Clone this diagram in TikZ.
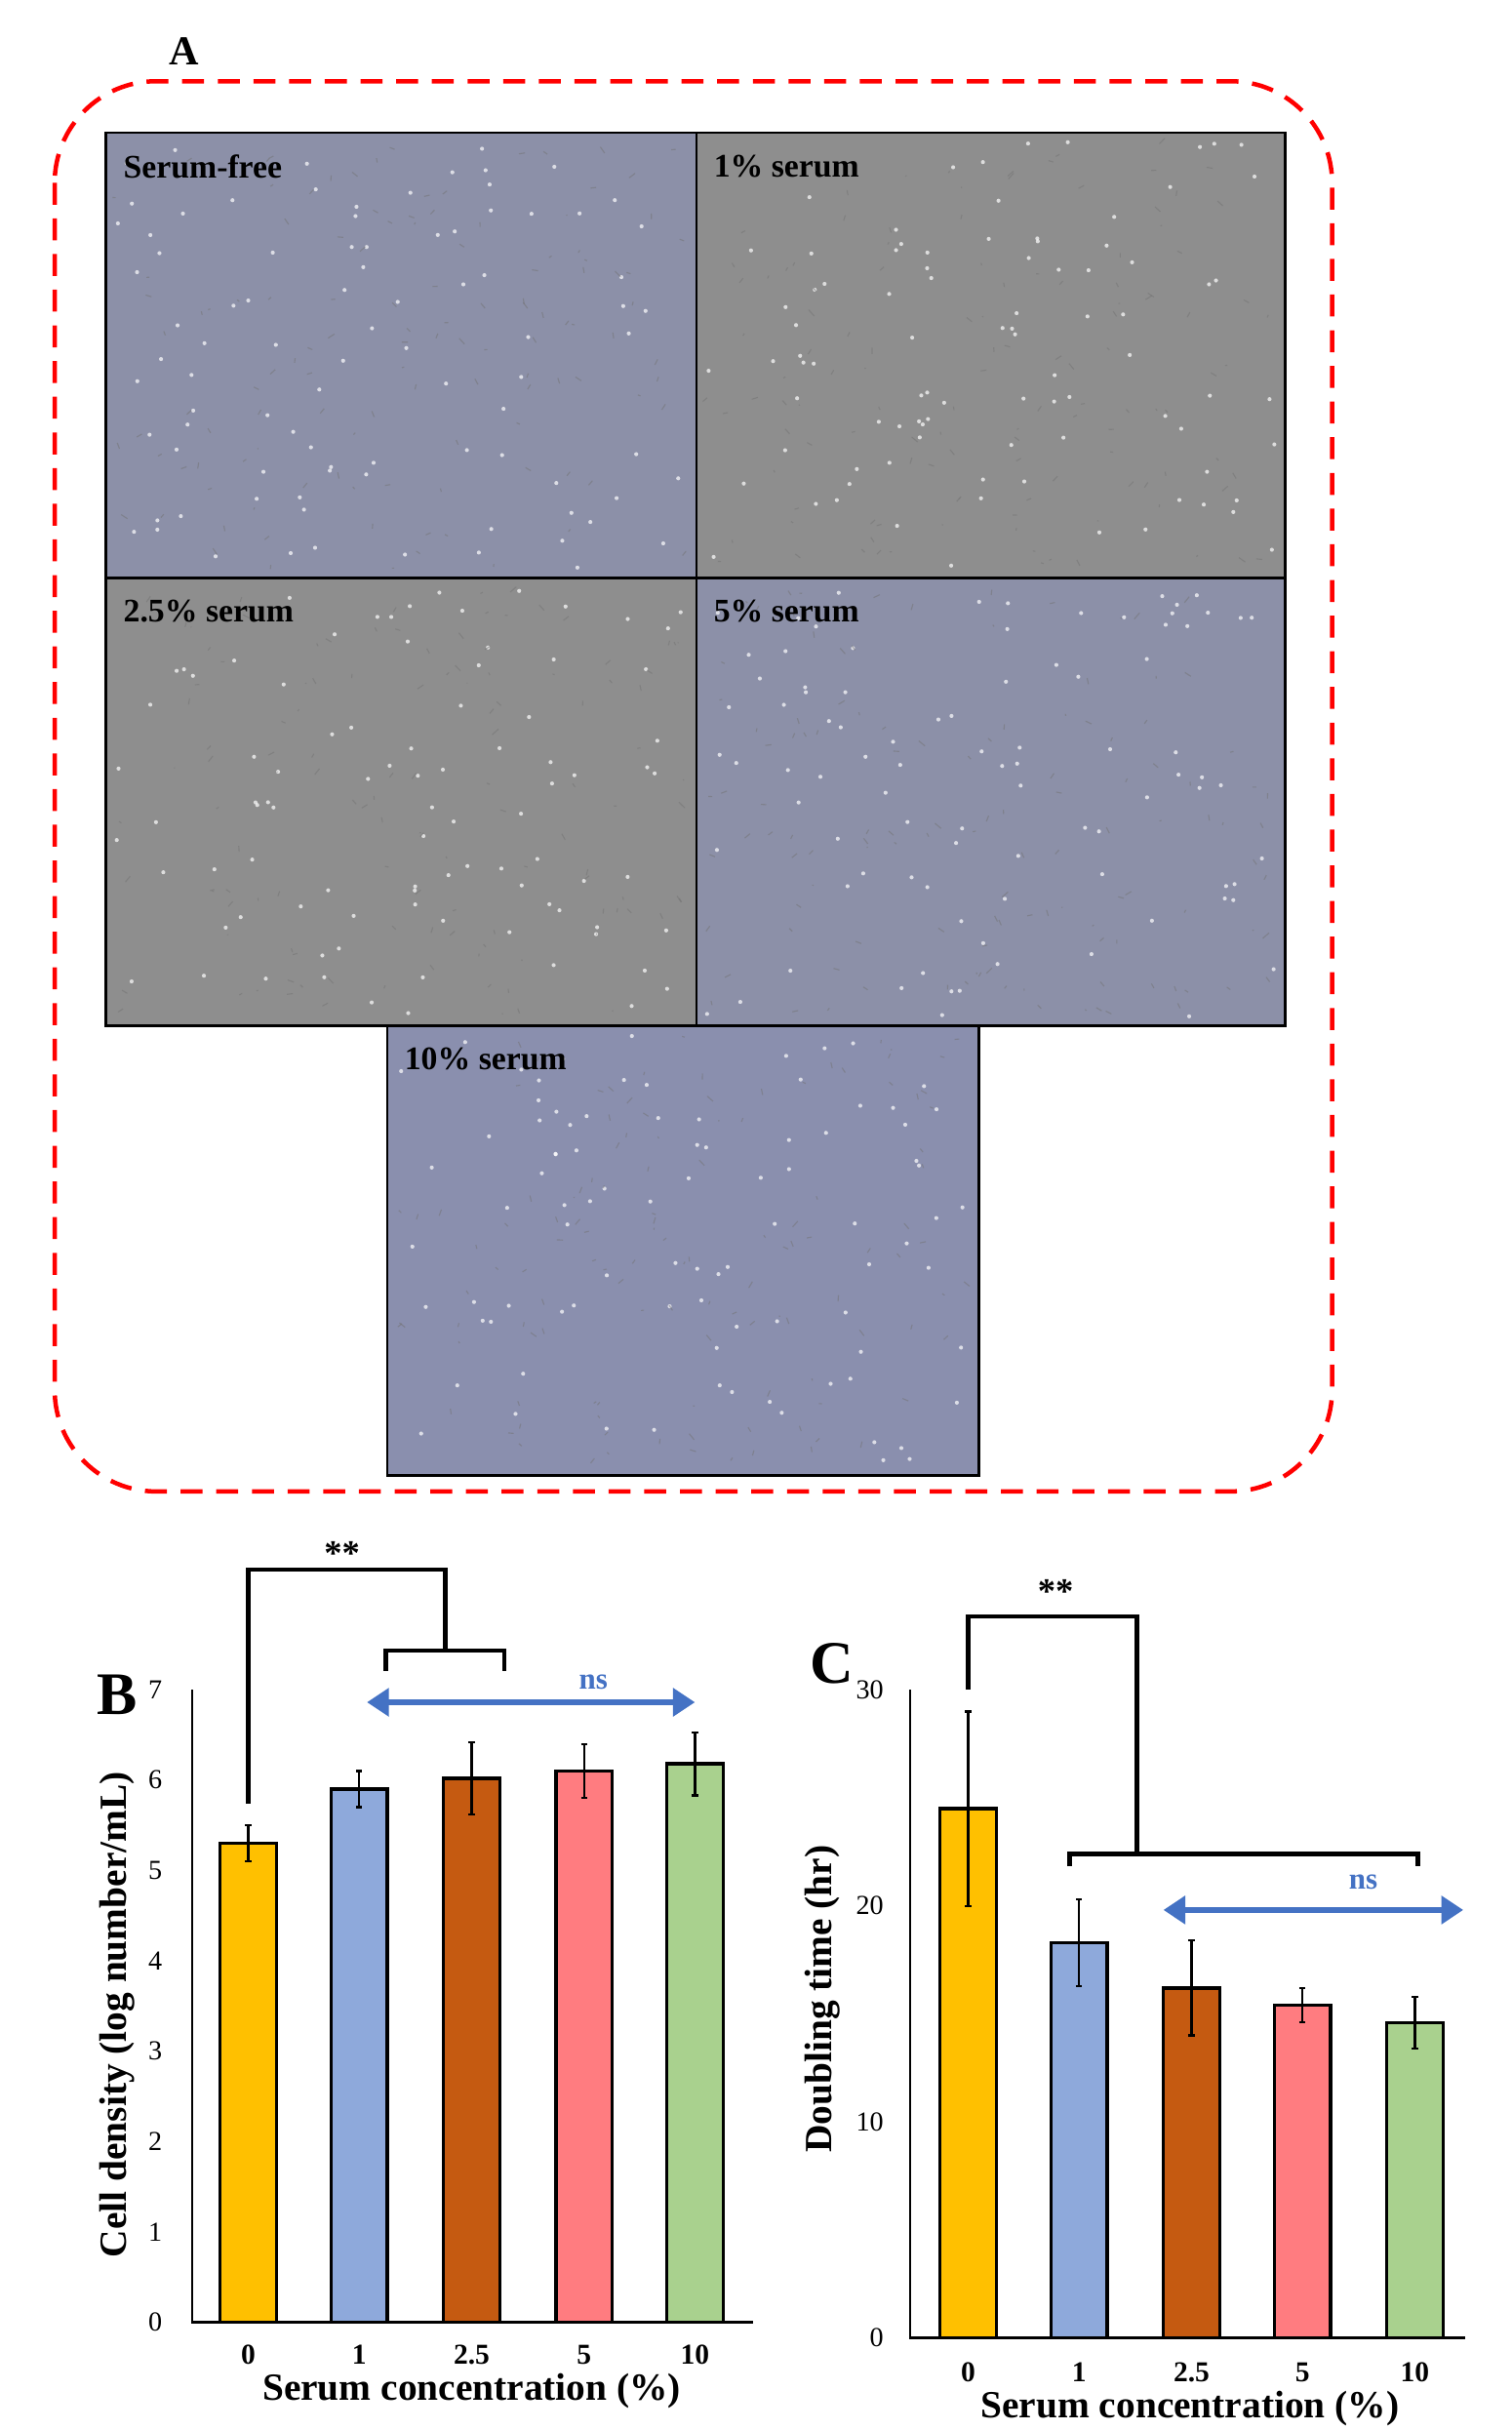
\documentclass[tikz,border=0pt]{standalone}
\usepackage{fontspec}
\setmainfont{Liberation Serif}
\usetikzlibrary{arrows.meta}
\definecolor{bluegray}{HTML}{8C90A8}
\definecolor{plaingray}{HTML}{8E8E8E}
\definecolor{bluegrayb}{HTML}{8A8FAE}
\definecolor{cA}{HTML}{FFC000}
\definecolor{cB}{HTML}{8EA9DB}
\definecolor{cC}{HTML}{C55A11}
\definecolor{cD}{HTML}{FF7C80}
\definecolor{cE}{HTML}{A9D18E}
\definecolor{nsblue}{HTML}{4472C4}
\tikzset{
 photo/.style={draw=black,line width=1pt},
 plab/.style={anchor=north west,inner sep=1pt,font=\bfseries\fontsize{12}{14}\selectfont},
 bar/.style={draw=black,line width=1.2pt},
 err/.style={line width=0.8pt},
 tick/.style={font=\fontsize{10}{12}\selectfont},
 xtick/.style={font=\bfseries\fontsize{10.5}{12}\selectfont},
 axtitle/.style={font=\bfseries\fontsize{14}{16}\selectfont},
 brk/.style={line width=1.6pt},
 nsarrow/.style={draw=nsblue,line width=2.2pt,{Triangle[length=8pt,width=10pt]}-{Triangle[length=8pt,width=10pt]}},
 nslab/.style={text=nsblue,font=\bfseries\fontsize{11}{13}\selectfont},
 star/.style={font=\bfseries\fontsize{13}{15}\selectfont},
 big/.style={font=\bfseries\fontsize{22}{24}\selectfont},
}
\begin{document}
\begin{tikzpicture}[x=0.02cm,y=-0.02cm]
\useasboundingbox (0,0) rectangle (968,1556);
\fill[white] (0,0) rectangle (968,1556);
% Panel A
\node[font=\bfseries\fontsize{15}{17}\selectfont] (lA) at (118,33) {A};
\draw[red,dashed,line width=1.6pt,dash pattern=on 8pt off 5pt,rounded corners=1.3cm] (35,52) rectangle (853,955);
\pgfmathsetseed{7}
\foreach \x/\y/\X/\Y/\c/\t in {68/85/446/370/bluegray/Serum-free,446/85/823/370/plaingray/1\% serum,68/370/446/657/plaingray/2.5\% serum,446/370/823/657/bluegray/5\% serum,248/657/627/945/bluegrayb/10\% serum}{
 \fill[\c] (\x,\y) rectangle (\X,\Y);
 \foreach \k in {1,...,90}{
  \pgfmathsetmacro\px{\x+6+rnd*(\X-\x-12)}
  \pgfmathsetmacro\py{\y+6+rnd*(\Y-\y-12)}
  \fill[white,opacity=0.7] (\px,\py) circle (1.3);
 }
 \foreach \k in {1,...,120}{
  \pgfmathsetmacro\px{\x+6+rnd*(\X-\x-12)}
  \pgfmathsetmacro\py{\y+6+rnd*(\Y-\y-12)}
  \draw[black!55,opacity=0.5,line width=0.4pt] (\px,\py) -- ++(rnd*8-4,rnd*8-4);
 }
 \draw[photo] (\x,\y) rectangle (\X,\Y);
 \node[plab] at (\x+9,\y+12) {\t};
}
% Panel B
\node[big] (lB) at (75,1085) {B};
\draw[line width=0.8pt] (123,1082) -- (123,1487) -- (482,1487);
\foreach \v in {0,...,7}{\node[tick,anchor=east] at (110,{1487-57.86*\v}) {\v};}
\foreach \xc/\val/\e/\c/\lab in {159/5.3/0.2/cA/0,230/5.9/0.2/cB/1,302/6.02/0.4/cC/2.5,374/6.1/0.3/cD/5,445/6.18/0.35/cE/10}{
 \draw[bar,fill=\c] (\xc-18,1487) rectangle (\xc+18,{1487-57.86*\val});
 \draw[err] (\xc,{1487-57.86*(\val-\e)}) -- (\xc,{1487-57.86*(\val+\e)});
 \draw[err] (\xc-2,{1487-57.86*(\val-\e)}) -- (\xc+2,{1487-57.86*(\val-\e)});
 \draw[err] (\xc-2,{1487-57.86*(\val+\e)}) -- (\xc+2,{1487-57.86*(\val+\e)});
 \node[xtick] at (\xc,1508) {\lab};
}
\node[axtitle] (xtB) at (302,1531) {Serum concentration (\%)};
\node[axtitle,rotate=90] (ytB) at (75,1290) {Cell density (log number/mL)};
\coordinate (b0) at (159,1155);
\coordinate (b1) at (159,1005);
\coordinate (b2) at (285,1005);
\coordinate (b3) at (285,1057);
\draw[brk] (b0) -- (b1) -- (b2) -- (b3);
\draw[brk] (247,1070) -- (247,1057) -- (323,1057) -- (323,1070);
\node[star] at (219,995) {**};
\coordinate (nB1) at (235,1090);
\coordinate (nB2) at (445,1090);
\draw[nsarrow] (nB1) -- (nB2);
\node[nslab] at (380,1077) {ns};
% Panel C
\node[big] (lC) at (533,1065) {C};
\draw[line width=0.8pt] (583,1082) -- (583,1497) -- (938,1497);
\foreach \v in {0,10,20,30}{\node[tick,anchor=east] at (572,{1497-13.83*\v}) {\v};}
\foreach \xc/\val/\e/\c/\lab in {620/24.5/4.5/cA/0,691/18.3/2/cB/1,763/16.2/2.2/cC/2.5,834/15.4/0.8/cD/5,906/14.6/1.2/cE/10}{
 \draw[bar,fill=\c] (\xc-18,1497) rectangle (\xc+18,{1497-13.83*\val});
 \draw[err] (\xc,{1497-13.83*(\val-\e)}) -- (\xc,{1497-13.83*(\val+\e)});
 \draw[err] (\xc-2,{1497-13.83*(\val-\e)}) -- (\xc+2,{1497-13.83*(\val-\e)});
 \draw[err] (\xc-2,{1497-13.83*(\val+\e)}) -- (\xc+2,{1497-13.83*(\val+\e)});
 \node[xtick] at (\xc,1519) {\lab};
}
\node[axtitle] (xtC) at (762,1542) {Serum concentration (\%)};
\node[axtitle,rotate=90] (ytC) at (527,1280) {Doubling time (hr)};
\draw[brk] (620,1082) -- (620,1035) -- (728,1035) -- (728,1187);
\draw[brk] (685,1195) -- (685,1187) -- (908,1187) -- (908,1195);
\node[star] at (676,1019) {**};
\coordinate (nC1) at (745,1223);
\coordinate (nC2) at (937,1223);
\draw[nsarrow] (nC1) -- (nC2);
\node[nslab] at (873,1205) {ns};
\end{tikzpicture}
\end{document}
